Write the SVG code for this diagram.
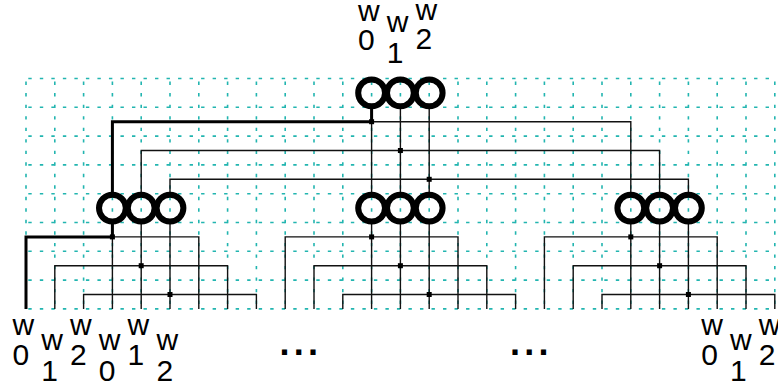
<svg xmlns="http://www.w3.org/2000/svg" width="778" height="387" viewBox="0 0 778 387">
<style>
.grid{fill:none;stroke:#22b5b0;stroke-width:1.6}
.gh{stroke-dasharray:3.4 8.12;stroke-dashoffset:-2.3}
.gv{stroke-dasharray:3.4 8.12;stroke-dashoffset:-3.1}
.wire{fill:none;stroke:#111;stroke-width:1.4;stroke-linejoin:miter}
.thick{fill:none;stroke:#000;stroke-width:3;stroke-linejoin:miter}
.ring{fill:none;stroke:#000;stroke-width:6}
.jn{fill:#000}
.lbl{font-family:"Liberation Sans",Arial,sans-serif;font-size:30px;fill:#000}
.dots{font-family:"Liberation Sans",Arial,sans-serif;font-size:36px;font-weight:bold;letter-spacing:4.3px;fill:#000}
</style>
<g id="grid">
<path class="grid gh" d="M26 78.5H774.8M26 107.3H774.8M26 136.1H774.8M26 164.9H774.8M26 193.7H774.8M26 222.5H774.8M26 251.3H774.8M26 280.1H774.8M26 308.9H774.8"/>
<path class="grid gv" d="M26 78.5V308.9M54.8 78.5V308.9M83.6 78.5V308.9M112.4 78.5V308.9M141.2 78.5V308.9M170 78.5V308.9M198.8 78.5V308.9M227.6 78.5V308.9M256.4 78.5V308.9M285.2 78.5V308.9M314 78.5V308.9M342.8 78.5V308.9M371.6 78.5V308.9M400.4 78.5V308.9M429.2 78.5V308.9M458 78.5V308.9M486.8 78.5V308.9M515.6 78.5V308.9M544.4 78.5V308.9M573.2 78.5V308.9M602 78.5V308.9M630.8 78.5V308.9M659.6 78.5V308.9M688.4 78.5V308.9M717.2 78.5V308.9M746 78.5V308.9M774.8 78.5V308.9"/>
</g>
<g id="connectors">
<path class="wire" d="M112.4 194.8V121.7H630.8V194.8M141.2 194.8V150.5H659.6V194.8M170 194.8V179.3H688.4V194.8M371.6 106.2V194.8M400.4 106.2V194.8M429.2 106.2V194.8"/>
<path class="wire" d="M26 308.9V236.9H198.8V308.9M54.8 308.9V265.7H227.6V308.9M83.6 308.9V294.5H256.4V308.9M112.4 221.4V308.9M141.2 221.4V308.9M170 221.4V308.9"/>
<path class="wire" d="M285.2 308.9V236.9H458V308.9M314 308.9V265.7H486.8V308.9M342.8 308.9V294.5H515.6V308.9M371.6 221.4V308.9M400.4 221.4V308.9M429.2 221.4V308.9"/>
<path class="wire" d="M544.4 308.9V236.9H717.2V308.9M573.2 308.9V265.7H746V308.9M602 308.9V294.5H774.8V308.9M630.8 221.4V308.9M659.6 221.4V308.9M688.4 221.4V308.9"/>
<path class="thick" d="M371.6 106.2V121.7H112.4V194.8M112.4 221.4V236.9H26V308.9"/>
<g class="jn">
<rect x="369.1" y="119.2" width="5" height="5"/>
<rect x="397.9" y="148" width="5" height="5"/>
<rect x="426.7" y="176.8" width="5" height="5"/>
<rect x="109.9" y="234.4" width="5" height="5"/>
<rect x="138.7" y="263.2" width="5" height="5"/>
<rect x="167.5" y="292" width="5" height="5"/>
<rect x="369.1" y="234.4" width="5" height="5"/>
<rect x="397.9" y="263.2" width="5" height="5"/>
<rect x="426.7" y="292" width="5" height="5"/>
<rect x="628.3" y="234.4" width="5" height="5"/>
<rect x="657.1" y="263.2" width="5" height="5"/>
<rect x="685.9" y="292" width="5" height="5"/>
</g>
</g>
<g id="node-top">
<circle class="ring" cx="371.6" cy="92.9" r="13.4"/>
<circle class="ring" cx="400.4" cy="92.9" r="13.4"/>
<circle class="ring" cx="429.2" cy="92.9" r="13.4"/>
</g>
<g id="node-left">
<circle class="ring" cx="112.4" cy="208.1" r="13.4"/>
<circle class="ring" cx="141.2" cy="208.1" r="13.4"/>
<circle class="ring" cx="170" cy="208.1" r="13.4"/>
</g>
<g id="node-middle">
<circle class="ring" cx="371.6" cy="208.1" r="13.4"/>
<circle class="ring" cx="400.4" cy="208.1" r="13.4"/>
<circle class="ring" cx="429.2" cy="208.1" r="13.4"/>
</g>
<g id="node-right">
<circle class="ring" cx="630.8" cy="208.1" r="13.4"/>
<circle class="ring" cx="659.6" cy="208.1" r="13.4"/>
<circle class="ring" cx="688.4" cy="208.1" r="13.4"/>
</g>
<g id="labels-top" class="lbl">
<text x="358" y="21">w</text><text x="358" y="50">0</text>
<text x="386.8" y="32">w</text><text x="386.8" y="63">1</text>
<text x="415.6" y="20">w</text><text x="415.6" y="49">2</text>
</g>
<g id="labels-bottom" class="lbl">
<text x="12.4" y="335">w</text><text x="12.4" y="365">0</text>
<text x="41.2" y="349.5">w</text><text x="41.2" y="381">1</text>
<text x="70" y="335">w</text><text x="70" y="365">2</text>
<text x="98.8" y="349.5">w</text><text x="98.8" y="381">0</text>
<text x="127.6" y="335">w</text><text x="127.6" y="365">1</text>
<text x="156.4" y="349.5">w</text><text x="156.4" y="381">2</text>
<text x="701.2" y="335">w</text><text x="701.2" y="365">0</text>
<text x="730" y="349.5">w</text><text x="730" y="381">1</text>
<text x="758.8" y="335">w</text><text x="758.8" y="365">2</text>
</g>
<g id="ellipses" class="dots">
<text x="279.5" y="355">...</text>
<text x="509.9" y="355">...</text>
</g>
</svg>
